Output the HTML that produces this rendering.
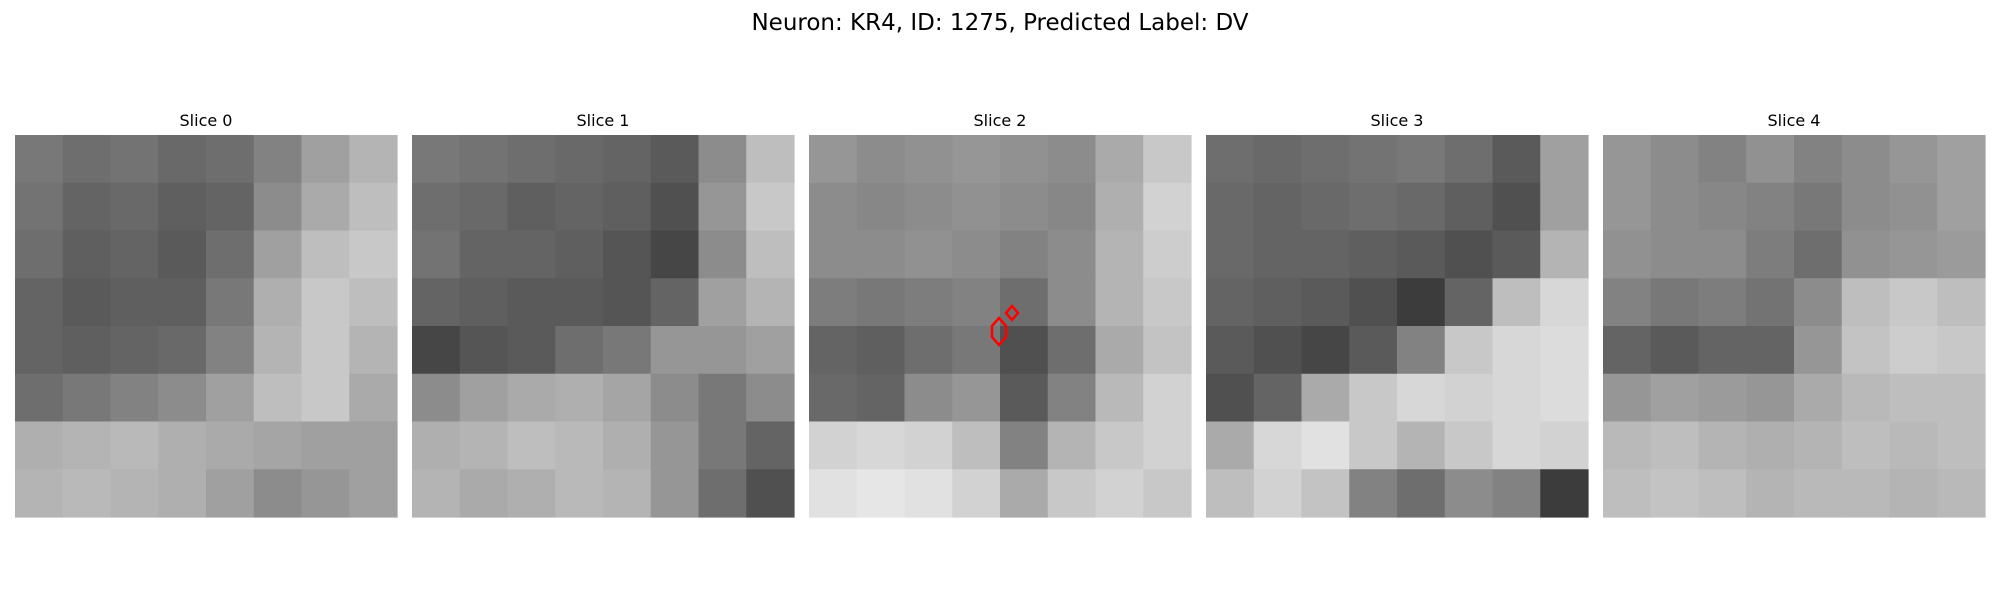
<!DOCTYPE html>
<html><head><meta charset="utf-8"><style>
html,body{margin:0;padding:0;background:#fff;width:2000px;height:600px;overflow:hidden}
text{font-family:"DejaVu Sans","Liberation Sans",sans-serif}
</style></head><body>
<svg id="fig" width="2000" height="600">
<text x="1000" y="30" text-anchor="middle" font-size="23">Neuron: KR4, ID: 1275, Predicted Label: DV</text>
</svg>
<script>
const sliceTitles=["Slice 0","Slice 1","Slice 2","Slice 3","Slice 4"];
const slice0=[[120,110,115,105,110,130,160,180],[115,100,105,95,100,140,170,190],[110,95,100,90,110,160,190,200],[100,90,95,95,120,175,200,190],[100,95,100,105,130,180,200,180],[110,120,130,140,160,190,200,170],[175,180,185,175,170,165,160,160],[180,185,180,175,160,140,150,160]];
const slice1=[[120,115,110,105,100,90,140,190],[110,105,95,100,95,80,150,200],[115,100,100,95,85,70,140,190],[100,95,90,90,85,100,160,180],[70,85,90,110,120,150,150,160],[140,160,170,175,165,140,120,140],[175,180,190,185,175,150,120,100],[180,170,175,185,180,150,110,80]];
const slice2=[[150,140,145,150,145,140,170,200],[140,135,140,145,140,135,175,210],[140,140,145,140,130,140,180,205],[125,120,125,130,110,140,180,200],[100,95,110,120,80,110,170,195],[105,100,140,150,90,130,185,210],[210,215,210,190,130,180,200,210],[225,230,225,210,170,200,210,200]];
const slice3=[[110,105,110,115,120,110,90,160],[105,100,105,110,105,95,80,160],[105,100,100,95,90,80,90,180],[100,95,90,80,60,100,190,215],[90,80,70,90,130,200,215,220],[80,100,170,200,215,210,215,220],[170,215,225,200,180,200,215,210],[190,210,195,130,110,140,130,60]];
const slice4=[[150,140,130,145,130,140,150,160],[150,140,135,130,120,140,145,160],[145,140,140,125,110,145,150,155],[130,120,125,115,140,190,200,190],[100,90,100,100,150,195,205,200],[150,160,155,150,170,185,190,190],[185,190,180,175,180,190,185,190],[190,195,190,180,185,185,180,185]];
const slices=[slice0,slice1,slice2,slice3,slice4];
const NS="http://www.w3.org/2000/svg";
const svg=document.getElementById('fig');
const X0=15,STEP=397,SIZE=382,Y0=135;
slices.forEach((grid,k)=>{
  const g=document.createElementNS(NS,'g');
  
  
  svg.appendChild(g);
  const px=X0+k*STEP;
  const n=grid.length, cs=SIZE/n;
  grid.forEach((row,r)=>row.forEach((v,c)=>{
    const rect=document.createElementNS(NS,'rect');
    rect.setAttribute('x',px+c*cs);rect.setAttribute('y',Y0+r*cs);
    rect.setAttribute('width',cs+0.6);rect.setAttribute('height',cs+0.6);
    rect.setAttribute('fill',`rgb(${v},${v},${v})`);
    
    
    g.appendChild(rect);
  }));
  const t=document.createElementNS(NS,'text');
  t.setAttribute('x',px+SIZE/2);t.setAttribute('y',126);
  t.setAttribute('text-anchor','middle');t.setAttribute('font-size','16');
  t.textContent=sliceTitles[k];
  
  
  g.appendChild(t);
});
const hex=document.createElementNS(NS,'polygon');
hex.setAttribute('points','999,318 1006,326 1006,337 999,345 992,337 992,326');
hex.setAttribute('fill','none');hex.setAttribute('stroke','#f00');hex.setAttribute('stroke-width','2.5');


svg.appendChild(hex);
const dia=document.createElementNS(NS,'polygon');
dia.setAttribute('points','1012,306 1018,313 1012,320 1006,313');
dia.setAttribute('fill','none');dia.setAttribute('stroke','#f00');dia.setAttribute('stroke-width','2.5');


svg.appendChild(dia);
</script>
</body></html>
